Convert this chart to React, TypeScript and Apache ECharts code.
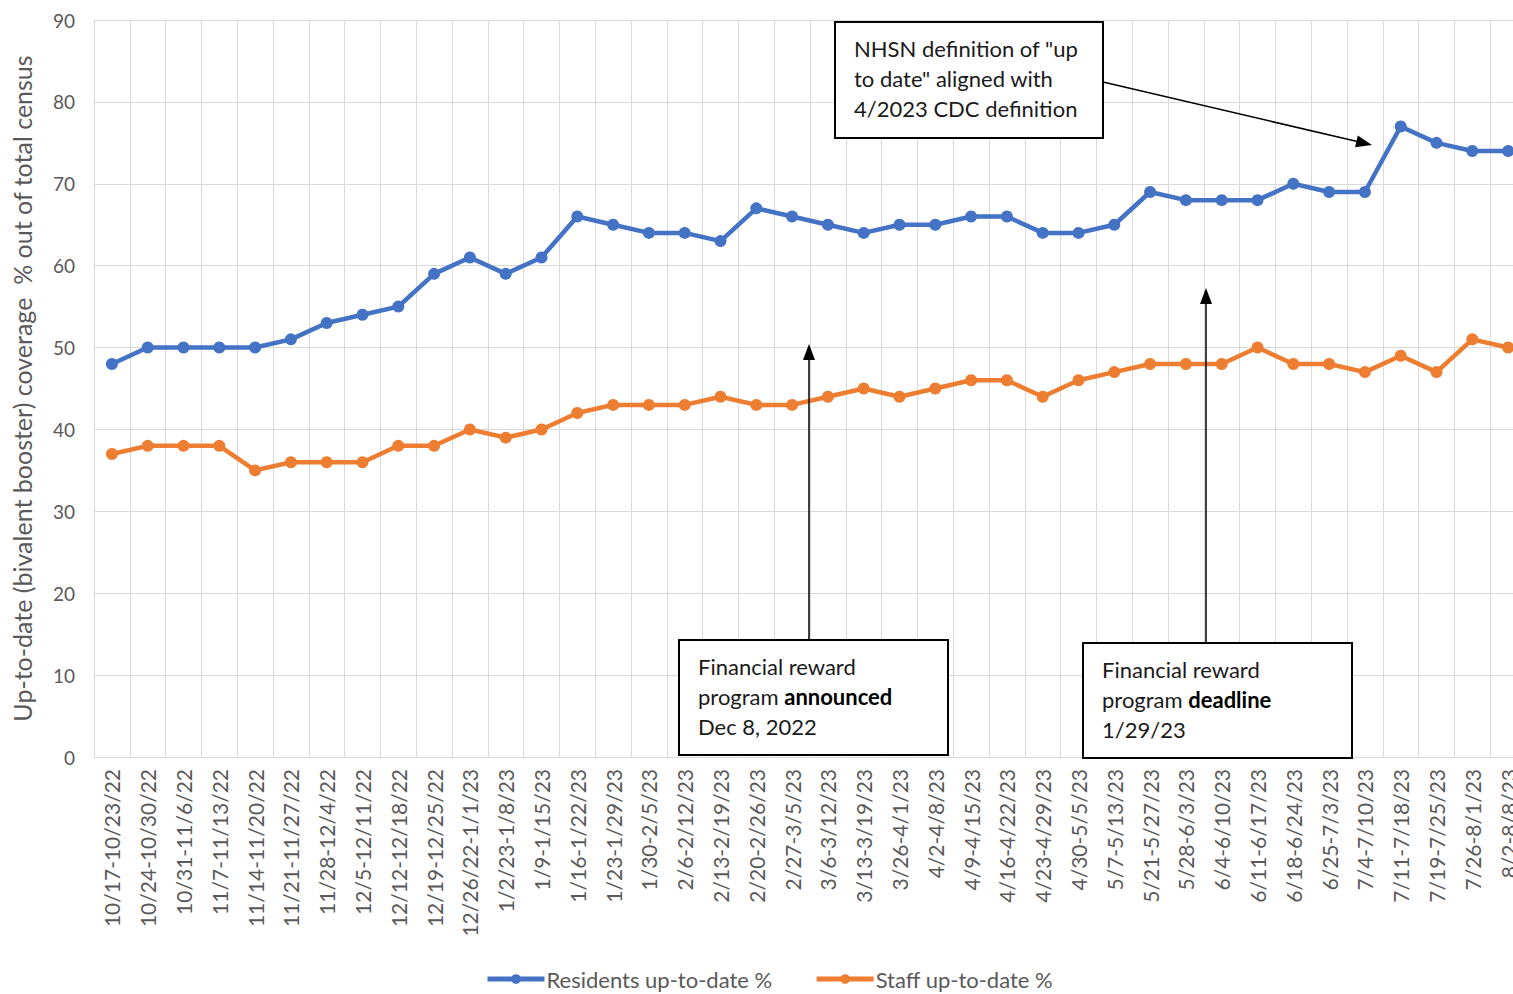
import React, { useEffect, useRef } from "react";
import * as echarts from "echarts";

const categories = [
  "10/17-10/23/22", "10/24-10/30/22", "10/31-11/6/22", "11/7-11/13/22", "11/14-11/20/22",
  "11/21-11/27/22", "11/28-12/4/22", "12/5-12/11/22", "12/12-12/18/22", "12/19-12/25/22",
  "12/26/22-1/1/23", "1/2/23-1/8/23", "1/9-1/15/23", "1/16-1/22/23", "1/23-1/29/23",
  "1/30-2/5/23", "2/6-2/12/23", "2/13-2/19/23", "2/20-2/26/23", "2/27-3/5/23",
  "3/6-3/12/23", "3/13-3/19/23", "3/26-4/1/23", "4/2-4/8/23", "4/9-4/15/23",
  "4/16-4/22/23", "4/23-4/29/23", "4/30-5/5/23", "5/7-5/13/23", "5/21-5/27/23",
  "5/28-6/3/23", "6/4-6/10/23", "6/11-6/17/23", "6/18-6/24/23", "6/25-7/3/23",
  "7/4-7/10/23", "7/11-7/18/23", "7/19-7/25/23", "7/26-8/1/23", "8/2-8/8/23",
];

const residents = [
  48, 50, 50, 50, 50, 51, 53, 54, 55, 59,
  61, 59, 61, 66, 65, 64, 64, 63, 67, 66,
  65, 64, 65, 65, 66, 66, 64, 64, 65, 69,
  68, 68, 68, 70, 69, 69, 77, 75, 74, 74,
];

const staff = [
  37, 38, 38, 38, 35, 36, 36, 36, 38, 38,
  40, 39, 40, 42, 43, 43, 43, 44, 43, 43,
  44, 45, 44, 45, 46, 46, 44, 46, 47, 48,
  48, 48, 50, 48, 48, 47, 49, 47, 51, 50,
];

const seriesNames = ["Residents up-to-date %", "Staff up-to-date %"];
const yAxisName = "Up-to-date (bivalent booster) coverage  % out of total census";

const FONT = "Lato, 'Open Sans', sans-serif";
const GRAY = "#595959";

function boxGroup(x: number, y: number, w: number, h: number, text: string, rich: any) {
  return [
    {
      type: "rect",
      shape: { x, y, width: w, height: h },
      style: { fill: "#fff", stroke: "#000", lineWidth: 2 },
      z: 100,
    },
    {
      type: "text",
      x: x + 19,
      y: y + 11,
      style: {
        text,
        fontSize: 22,
        fontFamily: FONT,
        fill: "#1a1a1a",
        lineHeight: 30,
        verticalAlign: "top",
        rich,
      },
      z: 101,
    },
  ];
}

function arrow(x1: number, y1: number, x2: number, y2: number) {
  const dx = x2 - x1;
  const dy = y2 - y1;
  const len = Math.sqrt(dx * dx + dy * dy);
  const ux = dx / len;
  const uy = dy / len;
  const hl = 16;
  const hw = 6;
  const bx = x2 - ux * hl;
  const by = y2 - uy * hl;
  const px = -uy;
  const py = ux;
  return [
    {
      type: "line",
      shape: { x1, y1, x2: bx + ux * 2, y2: by + uy * 2 },
      style: { stroke: "#000", lineWidth: 1.5 },
      z: 100,
    },
    {
      type: "polygon",
      shape: {
        points: [
          [x2, y2],
          [bx + px * hw, by + py * hw],
          [bx - px * hw, by - py * hw],
        ],
      },
      style: { fill: "#000" },
      z: 100,
    },
  ];
}

export default function App() {
  const ref = useRef<HTMLDivElement>(null);

  useEffect(() => {
    if (!ref.current) return;
    const chart = echarts.init(ref.current, null, { renderer: "svg" });
    const boldRich = {
      b: { fontSize: 22, fontFamily: FONT, fontWeight: "bold", fill: "#000", lineHeight: 30 },
    };
    chart.setOption({
      animation: false,
      backgroundColor: "#fff",
      grid: { left: 94, top: 20, right: 14, bottom: 237, outerBoundsMode: "none", containLabel: false },
      legend: {
        top: 963,
        left: 480,
        itemWidth: 57,
        itemHeight: 12,
        itemGap: 42,
        lineStyle: { width: 5 },
        textStyle: { fontSize: 22, fontFamily: FONT, color: GRAY, padding: [0, 0, 0, -3] },
        data: seriesNames,
      },
      xAxis: {
        type: "category",
        data: categories,
        boundaryGap: true,
        axisLine: { show: true, lineStyle: { color: "#d9d9d9", width: 1 } },
        axisTick: { show: false },
        splitLine: { show: true, interval: 0, lineStyle: { color: "#d9d9d9", width: 1 } },
        axisLabel: {
          interval: 0,
          rotate: 90,
          margin: 12,
          fontSize: 21,
          fontFamily: FONT,
          color: GRAY,
        },
      },
      yAxis: {
        type: "value",
        min: 0,
        max: 90,
        interval: 10,
        name: yAxisName,
        nameLocation: "middle",
        nameRotate: 90,
        nameGap: 60,
        nameTextStyle: { fontSize: 25, fontFamily: FONT, color: GRAY },
        axisLine: { show: true, lineStyle: { color: "#d9d9d9" } },
        axisTick: { show: false },
        splitLine: { show: true, lineStyle: { color: "#d9d9d9", width: 1 } },
        axisLabel: { fontSize: 19, fontFamily: FONT, color: GRAY, margin: 19 },
      },
      series: [
        {
          name: seriesNames[0],
          type: "line",
          data: residents,
          color: "#4472C4",
          lineStyle: { width: 4.5, color: "#4472C4" },
          symbol: "circle",
          symbolSize: 12,
          itemStyle: { color: "#4472C4" },
          z: 3,
        },
        {
          name: seriesNames[1],
          type: "line",
          data: staff,
          color: "#ED7D31",
          lineStyle: { width: 4.5, color: "#ED7D31" },
          symbol: "circle",
          symbolSize: 12,
          itemStyle: { color: "#ED7D31" },
          z: 3,
        },
      ],
      graphic: [
        ...arrow(1103, 82, 1372, 145),
        ...arrow(809, 640, 809, 344),
        ...arrow(1206, 643, 1206, 288),
        ...boxGroup(835, 22, 268, 116, 'NHSN definition of "up\nto date" aligned with\n4/2023 CDC definition', {}),
        ...boxGroup(679, 640, 269, 115, "Financial reward\nprogram {b|announced}\nDec 8, 2022", boldRich),
        ...boxGroup(1083, 643, 269, 115, "Financial reward\nprogram {b|deadline}\n1/29/23", boldRich),
      ],
    });
    return () => chart.dispose();
  }, []);

  return (
    <div
      style={{
        position: "fixed",
        left: 0,
        top: 0,
        width: 1513,
        height: 994,
        overflow: "hidden",
        background: "#fff",
      }}
    >
      <div ref={ref} style={{ width: 1540, height: 994 }} />
    </div>
  );
}
